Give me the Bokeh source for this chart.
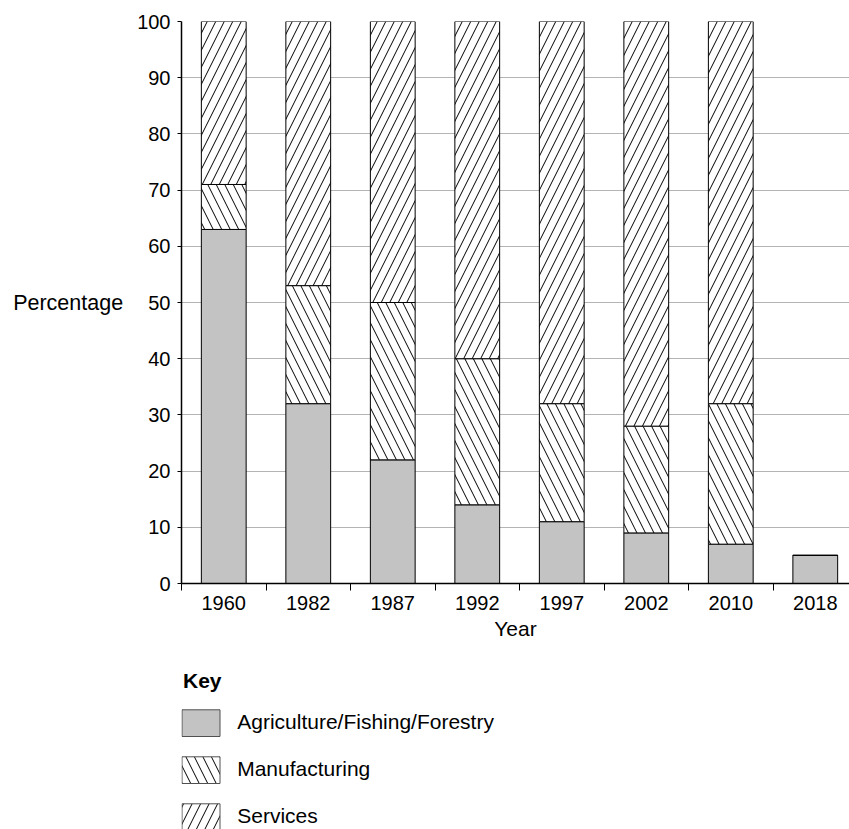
from bokeh.plotting import figure
from bokeh.models import FixedTicker, Label, Range1d, ColumnDataSource
from bokeh.layouts import column
from bokeh.core.properties import value
from bokeh.embed import file_html
from bokeh.resources import INLINE

years = ["1960", "1982", "1987", "1992", "1997", "2002", "2010", "2018"]
agriculture = [63, 32, 22, 14, 11, 9, 7, 5]
manufacturing = [8, 21, 28, 26, 21, 19, 25, 0]
services = [29, 47, 50, 60, 68, 72, 68, 0]
y_ticks = list(range(0, 101, 10))
series_names = ["Agriculture/Fishing/Forestry", "Manufacturing", "Services"]

FONT = "Liberation Sans"
AGRI_FILL = "#c3c3c3"
HATCH_SCALE = 17

x = [i + 0.5 for i in range(len(years))]
agri_top = agriculture
manu_top = [a + m for a, m in zip(agriculture, manufacturing)]
serv_top = [a + m + s for a, m, s in zip(agriculture, manufacturing, services)]

LEFT = 181
p = figure(width=849, height=650, x_range=(0, 7.905), y_range=(0, 100),
           min_border_left=LEFT, min_border_top=21, min_border_right=0, min_border_bottom=67,
           output_backend="svg", toolbar_location=None)
p.outline_line_color = None

bw = 0.53
p.vbar(x=x, bottom=0, top=agri_top, width=bw, fill_color=AGRI_FILL,
       line_color="black", line_width=1)
p.vbar(x=x, bottom=agri_top, top=manu_top, width=bw, fill_color="white",
       hatch_pattern="\\", hatch_color="black", hatch_scale=HATCH_SCALE, hatch_weight=1,
       line_color="black", line_width=1)
p.vbar(x=x, bottom=manu_top, top=serv_top, width=bw, fill_color="white",
       hatch_pattern="/", hatch_color="black", hatch_scale=HATCH_SCALE, hatch_weight=1,
       line_color="black", line_width=1)

# y axis
p.yaxis.ticker = FixedTicker(ticks=y_ticks)
p.yaxis.minor_tick_line_color = None
p.yaxis.major_tick_in = 0
p.yaxis.major_tick_out = 4
p.yaxis.major_label_standoff = 7
p.yaxis.major_label_text_font = FONT
p.yaxis.major_label_text_font_size = "20px"
p.yaxis.major_label_text_color = "black"
p.yaxis.axis_line_width = 1.5
p.yaxis.axis_line_color = "black"

label_done = False
try:
    p.yaxis.axis_label = "Percentage"
    p.yaxis.axis_label_orientation = "horizontal"
    p.yaxis.axis_label_text_font = FONT
    p.yaxis.axis_label_text_font_size = "21.5px"
    p.yaxis.axis_label_text_font_style = "normal"
    p.yaxis.axis_label_text_color = "black"
    p.yaxis.axis_label_standoff = 11
    label_done = True
except Exception:
    p.yaxis.axis_label = None
if not label_done:
    p.add_layout(Label(x=-0.695, y=50, text="Percentage", text_align="right",
                       text_baseline="middle", text_font=FONT, text_font_size="21.5px",
                       text_color="black"))

# x axis
p.xaxis.ticker = FixedTicker(ticks=x, minor_ticks=list(range(0, 9)))
p.xaxis.major_label_overrides = {xi: y for xi, y in zip(x, years)}
p.xaxis.major_tick_in = 0
p.xaxis.major_tick_out = 0
p.xaxis.minor_tick_in = 0
p.xaxis.minor_tick_out = 7
p.xaxis.minor_tick_line_color = "black"
p.xaxis.major_label_standoff = 5
p.xaxis.major_label_text_font = FONT
p.xaxis.major_label_text_font_size = "20px"
p.xaxis.major_label_text_color = "black"
p.xaxis.axis_label = "Year"
p.xaxis.axis_label_text_font = FONT
p.xaxis.axis_label_text_font_size = "21px"
p.xaxis.axis_label_text_font_style = "normal"
p.xaxis.axis_label_text_color = "black"
p.xaxis.axis_label_standoff = 4
p.xaxis.axis_line_width = 1.5
p.xaxis.axis_line_color = "black"

p.xgrid.grid_line_color = None
p.ygrid.ticker = FixedTicker(ticks=y_ticks)
p.ygrid.grid_line_color = "#b4b4b4"
p.ygrid.grid_line_width = 1

# ---- key (legend) panel, page-pixel x coordinates, y downward ----
KH = 179
k = figure(width=849, height=KH, x_range=Range1d(LEFT, 849), y_range=Range1d(KH, 0),
           min_border_left=LEFT, min_border_right=0, min_border_top=0, min_border_bottom=0,
           x_axis_type=None, y_axis_type=None,
           output_backend="svg", toolbar_location=None)
k.outline_line_color = None
k.xgrid.grid_line_color = None
k.ygrid.grid_line_color = None

key_left, sw_w, sw_h = 181.5, 38.0, 26.7
first_top, pitch = 59.3, 47.0
tops = [first_top + i * pitch for i in range(3)]
src = ColumnDataSource(dict(
    left=[key_left] * 3, right=[key_left + sw_w] * 3,
    top=tops, bottom=[t + sw_h for t in tops],
    fill=[AGRI_FILL, "white", "white"], hatch=[" ", "\\", "/"],
    tx=[236.7] * 3, ty=[t + sw_h / 2 - 1.5 for t in tops],
    label=series_names,
))
k.quad(left="left", right="right", top="top", bottom="bottom", source=src,
       fill_color="fill", hatch_pattern="hatch", hatch_color="black",
       hatch_scale=HATCH_SCALE, hatch_weight=1, line_color="#505050", line_width=1)
k.text(x="tx", y="ty", text="label", source=src, text_font=value(FONT),
       text_font_size="21px", text_baseline="middle", text_align="left", text_color="black")
k.text(x=[182.5], y=[29.5], text=["Key"], text_font=value(FONT),
       text_font_size="21px", text_font_style="bold", text_baseline="middle",
       text_align="left", text_color="black")

layout = column(p, k, spacing=0)
open("out.html", "w").write(file_html(layout, INLINE))
